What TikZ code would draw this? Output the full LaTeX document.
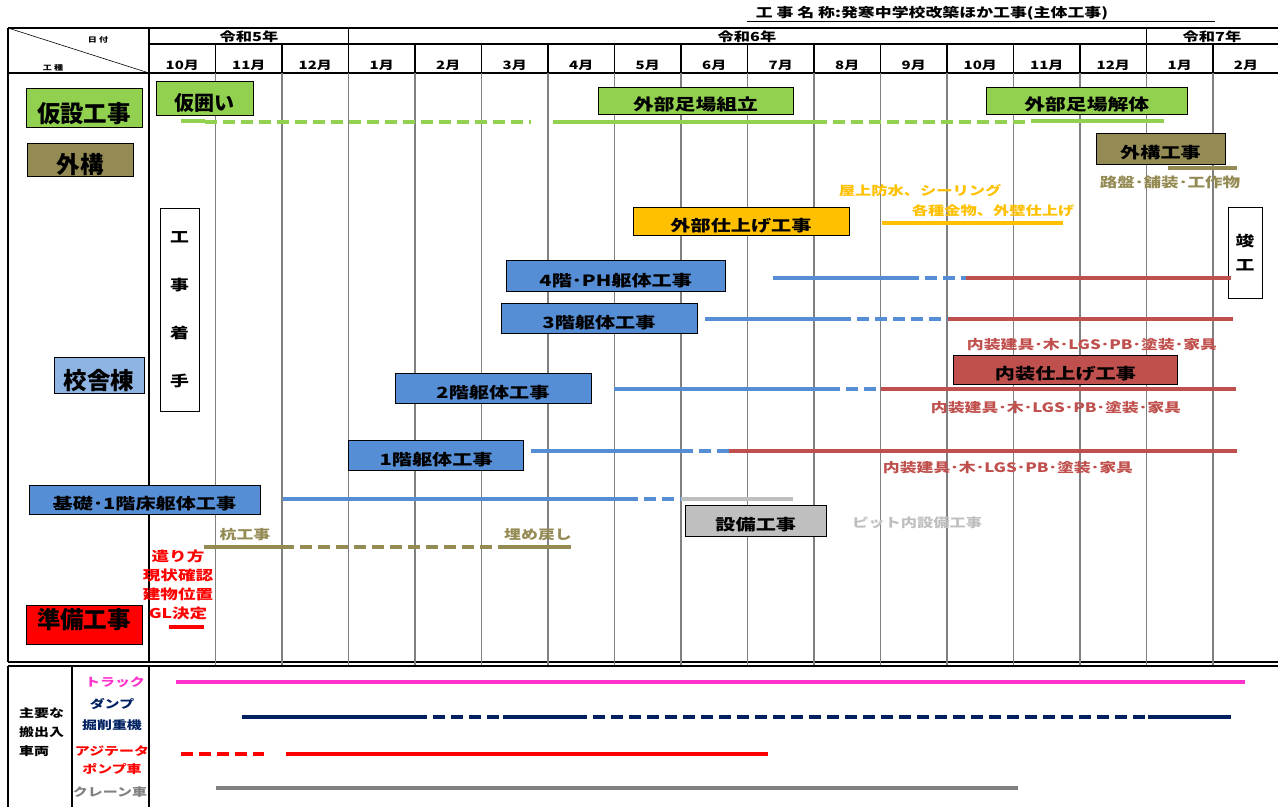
\documentclass[tikz,border=0pt]{standalone}
\usepackage{fontspec}
\setmainfont{Noto Sans CJK JP}
\newfontfamily\widejp{Noto Sans CJK JP}[FakeStretch=1.3]
\usetikzlibrary{calc,positioning}
\definecolor{kasetsu}{HTML}{92D050}
\definecolor{gaiko}{HTML}{948A54}
\definecolor{kosha}{HTML}{8DB4E2}
\definecolor{kutai}{HTML}{558ED5}
\definecolor{shiage}{HTML}{FFC000}
\definecolor{naiso}{HTML}{C0504D}
\definecolor{setsubi}{HTML}{BFBFBF}
\definecolor{gridgray}{HTML}{808080}
\definecolor{truck}{HTML}{FF33CC}
\definecolor{dump}{HTML}{002060}

\begin{document}
\begin{tikzpicture}[x=1pt,y=-1pt]
             \tikzstyle{frame} = [black,line width=1.2pt]
             \tikzstyle{gridline} = [gridgray,line width=1.2pt]
             \tikzstyle{cat} = [draw=black,line width=0.8pt,inner sep=0pt,text height=32pt,text depth=3pt,font=\bfseries\fontsize{23.5}{24}\selectfont]
             \tikzstyle{task} = [draw=black,line width=0.8pt,inner sep=0pt,text height=22pt,text depth=2pt,font=\widejp\bfseries\fontsize{15.5}{16}\selectfont]
             \tikzstyle{vbox} = [draw=black,line width=0.8pt,fill=white,inner sep=0pt,align=center,font=\widejp\bfseries\fontsize{14.5}{15}\selectfont]
             \tikzstyle{month} = [font=\widejp\bfseries\fontsize{11.5}{12}\selectfont]
             \tikzstyle{year} = [font=\widejp\bfseries\fontsize{12.5}{13}\selectfont]
             \tikzstyle{note} = [inner sep=0pt,font=\widejp\bfseries\fontsize{12.5}{13}\selectfont]
             \tikzstyle{car} = [inner sep=0pt,font=\widejp\bfseries\fontsize{11.5}{12}\selectfont]
             \tikzstyle{plan} = [line width=4pt]
             \tikzstyle{tent} = [line width=4pt,dash pattern=on 12pt off 6pt]
		\useasboundingbox (0,0) rectangle (1278,807);
		% Title
		\node[font=\widejp\bfseries\fontsize{13}{13}\selectfont] (title) at (932,13) {工 事 名 称:発寒中学校改築ほか工事(主体工事)};
		\coordinate (ul_0) at (747,21);
		\coordinate (ul_1) at (1215,21);
		\draw[line width=1pt] (ul_0) -- (ul_1);
		% Header
		\draw[frame] (8,28) -- (1278,28) (149,44) -- (1278,44) (8,73) -- (1278,73);
		\draw[frame] (8,28) -- (8,662) (149,28) -- (149,662) (8,662) -- (1278,662);
		\draw[frame] (348.5,28) -- (348.5,44) (1146.5,28) -- (1146.5,44);
		\draw[line width=0.6pt] (8,28) -- (149,73);
		\node[font=\widejp\bfseries\fontsize{7}{7}\selectfont] (hd_0) at (98,40) {日 付};
		\node[font=\widejp\bfseries\fontsize{7}{7}\selectfont] (hd_1) at (53,68) {工 種};
		\node[year] (y_5) at (249,37) {令和5年};
		\node[year] (y_6) at (747,37) {令和6年};
		\node[year] (y_7) at (1212,37) {令和7年};
		\draw[frame] (215.5,44) -- (215.5,73) (282,44) -- (282,73) (348.5,44) -- (348.5,73)
			(415,44) -- (415,73) (481.5,44) -- (481.5,73) (548,44) -- (548,73) (614.5,44) -- (614.5,73)
			(681,44) -- (681,73) (747.5,44) -- (747.5,73) (814,44) -- (814,73) (880.5,44) -- (880.5,73)
			(947,44) -- (947,73) (1013.5,44) -- (1013.5,73) (1080,44) -- (1080,73) (1146.5,44) -- (1146.5,73)
			(1213,44) -- (1213,73);
		\node[month] (m_0) at (182.25,65.5) {10月};
		\node[month] (m_1) at (248.75,65.5) {11月};
		\node[month] (m_2) at (315.25,65.5) {12月};
		\node[month] (m_3) at (381.75,65.5) {1月};
		\node[month] (m_4) at (448.25,65.5) {2月};
		\node[month] (m_5) at (514.75,65.5) {3月};
		\node[month] (m_6) at (581.25,65.5) {4月};
		\node[month] (m_7) at (647.75,65.5) {5月};
		\node[month] (m_8) at (714.25,65.5) {6月};
		\node[month] (m_9) at (780.75,65.5) {7月};
		\node[month] (m_10) at (847.25,65.5) {8月};
		\node[month] (m_11) at (913.75,65.5) {9月};
		\node[month] (m_12) at (980.25,65.5) {10月};
		\node[month] (m_13) at (1046.75,65.5) {11月};
		\node[month] (m_14) at (1113.25,65.5) {12月};
		\node[month] (m_15) at (1179.75,65.5) {1月};
		\node[month] (m_16) at (1246,65.5) {2月};
		% Grid
		\draw[gridline] (215.5,73) -- (215.5,666) (282,73) -- (282,666) (348.5,73) -- (348.5,666)
			(415,73) -- (415,666) (481.5,73) -- (481.5,666) (548,73) -- (548,666) (614.5,73) -- (614.5,666)
			(681,73) -- (681,666) (747.5,73) -- (747.5,666) (814,73) -- (814,666) (880.5,73) -- (880.5,666)
			(947,73) -- (947,666) (1013.5,73) -- (1013.5,666) (1080,73) -- (1080,666) (1146.5,73) -- (1146.5,666)
			(1213,73) -- (1213,666);
		% Categories
		\node[cat,fill=kasetsu,minimum width=116pt,minimum height=39pt] (c_0) at (84,107.5) {仮設工事};
		\node[cat,fill=gaiko,minimum width=106pt,minimum height=33pt,text height=29pt] (c_1) at (80,160) {外構};
		\node[cat,fill=kosha,minimum width=90pt,minimum height=36pt] (c_2) at (99,375) {校舎棟};
		\node[cat,fill=red,minimum width=116pt,minimum height=39pt,text height=20.5pt,text depth=12pt] (c_3) at (84,624.5) {準備工事};
		% Milestones
		\node[vbox,minimum width=39pt,minimum height=203pt] (start) at (179.5,309.5) {工\\[33pt]事\\[33pt]着\\[33pt]手};
		\node[vbox,minimum width=34pt,minimum height=91pt] (finish) at (1245,252.5) {竣\\[9pt]工};
		% Kasetsu
		\node[task,fill=kasetsu,minimum width=97.5pt,minimum height=34pt,text height=27pt,text depth=2.5pt,font=\bfseries\fontsize{20}{20}\selectfont] (t_0) at (204.75,98) {仮囲い};
		\node[task,fill=kasetsu,minimum width=195pt,minimum height=27pt,font=\widejp\bfseries\fontsize{16}{16}\selectfont] (t_1) at (695.5,100.5) {外部足場組立};
		\node[task,fill=kasetsu,minimum width=200.5pt,minimum height=27pt,font=\widejp\bfseries\fontsize{16}{16}\selectfont] (t_2) at (1086.75,100.5) {外部足場解体};
		\coordinate (k_0) at (181,121);
		\coordinate (k_1) at (205,121);
		\coordinate (k_2) at (205,122);
		\coordinate (k_3) at (531,122);
		\coordinate (k_4) at (553,122);
		\coordinate (k_5) at (815,122);
		\coordinate (k_6) at (1028,122);
		\coordinate (k_7) at (1031,121);
		\coordinate (k_8) at (1164,121);
		\draw[plan,kasetsu] (k_0) -- (k_1);
		\draw[tent,kasetsu] (k_2) -- (k_3);
		\draw[plan,kasetsu] (k_4) -- (k_5);
		\draw[tent,kasetsu] (k_5) -- (k_6);
		\draw[plan,kasetsu] (k_7) -- (k_8);
		% Gaiko
		\node[task,fill=gaiko,minimum width=129pt,minimum height=31pt] (t_3) at (1160.5,148.5) {外構工事};
		\coordinate (g_0) at (1168,168);
		\coordinate (g_1) at (1237,168);
		\draw[plan,gaiko] (g_0) -- (g_1);
		\node[note,text=gaiko,font=\widejp\bfseries\fontsize{13.5}{14}\selectfont] (n_0) at (1170,182) {路盤･舗装･工作物};
		% Gaiheki
		\node[task,fill=shiage,minimum width=216pt,minimum height=28pt] (t_4) at (741,221) {外部仕上げ工事};
		\node[note,text=shiage] (n_1) at (920,191) {屋上防水、シーリング};
		\node[note,text=shiage] (n_2) at (993,211) {各種金物、外壁仕上げ};
		\coordinate (o_0) at (882,223);
		\coordinate (o_1) at (1063,223);
		\draw[plan,shiage] (o_0) -- (o_1);
		% Kutai 4F
		\node[task,fill=kutai,minimum width=218.5pt,minimum height=31pt,text height=24pt] (t_5) at (615.75,275.5) {4階･PH躯体工事};
		\coordinate (f4_0) at (773,278);
		\coordinate (f4_1) at (907,278);
		\coordinate (f4_2) at (966,278);
		\coordinate (f4_3) at (1231,278);
		\draw[plan,kutai] (f4_0) -- (f4_1);
		\draw[tent,kutai] (f4_1) -- (f4_2);
		\draw[plan,naiso] (f4_2) -- (f4_3);
		% Kutai 3F
		\node[task,fill=kutai,minimum width=196pt,minimum height=30pt] (t_6) at (599,318) {3階躯体工事};
		\coordinate (f3_0) at (705,319);
		\coordinate (f3_1) at (839,319);
		\coordinate (f3_2) at (948,319);
		\coordinate (f3_3) at (1233,319);
		\draw[plan,kutai] (f3_0) -- (f3_1);
		\draw[tent,kutai] (f3_1) -- (f3_2);
		\draw[plan,naiso] (f3_2) -- (f3_3);
		\node[note,text=naiso,font=\widejp\bfseries\fontsize{13}{13}\selectfont] (n_3) at (1092,345) {内装建具･木･LGS･PB･塗装･家具};
		% Naiso
		\node[task,fill=naiso,minimum width=224pt,minimum height=29pt] (t_7) at (1065.5,369.5) {内装仕上げ工事};
		% Kutai 2F
		\node[task,fill=kutai,minimum width=196pt,minimum height=30pt] (t_8) at (493,388) {2階躯体工事};
		\coordinate (f2_0) at (614,389);
		\coordinate (f2_1) at (828,389);
		\coordinate (f2_2) at (881,389);
		\coordinate (f2_3) at (1236,389);
		\draw[plan,kutai] (f2_0) -- (f2_1);
		\draw[tent,kutai] (f2_1) -- (f2_2);
		\draw[plan,naiso] (f2_2) -- (f2_3);
		\node[note,text=naiso,font=\widejp\bfseries\fontsize{13}{13}\selectfont] (n_4) at (1056,408) {内装建具･木･LGS･PB･塗装･家具};
		% Kutai 1F
		\node[task,fill=kutai,minimum width=175pt,minimum height=30pt] (t_9) at (436.15,455) {1階躯体工事};
		\coordinate (f1_0) at (531,451);
		\coordinate (f1_1) at (681,451);
		\coordinate (f1_2) at (729,451);
		\coordinate (f1_3) at (1237,451);
		\draw[plan,kutai] (f1_0) -- (f1_1);
		\draw[tent,kutai] (f1_1) -- (f1_2);
		\draw[plan,naiso] (f1_2) -- (f1_3);
		\node[note,text=naiso,font=\widejp\bfseries\fontsize{13}{13}\selectfont] (n_5) at (1008,468) {内装建具･木･LGS･PB･塗装･家具};
		% Kiso
		\node[task,fill=kutai,minimum width=231pt,minimum height=29pt] (t_10) at (144.5,499.5) {基礎･1階床躯体工事};
		\coordinate (f0_0) at (283,499);
		\coordinate (f0_1) at (626,499);
		\coordinate (f0_2) at (681,499);
		\coordinate (f0_3) at (793,499);
		\draw[plan,kutai] (f0_0) -- (f0_1);
		\draw[tent,kutai] (f0_1) -- (f0_2);
		\draw[plan,setsubi] (f0_2) -- (f0_3);
		% Setsubi
		\node[task,fill=setsubi,minimum width=141.5pt,minimum height=31pt] (t_11) at (755.75,520.5) {設備工事};
		\node[note,text=setsubi] (n_6) at (917,523) {ピット内設備工事};
		% Kui
		\node[note,text=gaiko,font=\widejp\bfseries\fontsize{13}{13}\selectfont] (n_7) at (245,535) {杭工事};
		\node[note,text=gaiko,font=\widejp\bfseries\fontsize{13}{13}\selectfont] (n_8) at (538,535) {埋め戻し};
		\coordinate (p_0) at (204,547);
		\coordinate (p_1) at (282,547);
		\coordinate (p_2) at (506,547);
		\coordinate (p_3) at (571,547);
		\draw[plan,gaiko] (p_0) -- (p_1);
		\draw[tent,gaiko] (p_1) -- (p_2);
		\draw[plan,gaiko] (p_2) -- (p_3);
		% Junbi
		\node[note,text=red,align=center,font=\widejp\bfseries\fontsize{13.5}{19}\selectfont] (n_9) at (178,585) {遣り方\\現状確認\\建物位置\\GL決定};
		\coordinate (r_0) at (169,627);
		\coordinate (r_1) at (204,627);
		\draw[plan,red] (r_0) -- (r_1);
		% Vehicles
		\draw[frame] (8,666) -- (1278,666) (8,666) -- (8,807) (72,666) -- (72,807) (149,666) -- (149,807);
		\node[car,align=left,anchor=west,font=\widejp\bfseries\fontsize{11.5}{19}\selectfont] (v_0) at (19,732) {主要な\\搬出入\\車両};
		\node[car,text=truck] (v_1) at (115,682) {トラック};
		\node[car,text=dump,align=center,font=\widejp\bfseries\fontsize{11.5}{21}\selectfont] (v_2) at (112,715) {ダンプ\\掘削重機};
		\node[car,text=red,align=center,font=\widejp\bfseries\fontsize{11.5}{18}\selectfont] (v_3) at (112,760) {アジテータ\\ポンプ車};
		\node[car,text=gridgray] (v_4) at (110,792) {クレーン車};
		\coordinate (tr_0) at (176,682);
		\coordinate (tr_1) at (1245,682);
		\draw[plan,truck,line width=4.5pt] (tr_0) -- (tr_1);
		\coordinate (dp_0) at (242,717);
		\coordinate (dp_1) at (415,717);
		\coordinate (dp_2) at (503,717);
		\coordinate (dp_3) at (575,717);
		\coordinate (dp_4) at (1148,717);
		\coordinate (dp_5) at (1231,717);
		\draw[plan,dump,line width=4.5pt] (dp_0) -- (dp_1);
		\draw[tent,dump,line width=4.5pt] (dp_1) -- (dp_2);
		\draw[plan,dump,line width=4.5pt] (dp_2) -- (dp_3);
		\draw[tent,dump,line width=4.5pt] (dp_3) -- (dp_4);
		\draw[plan,dump,line width=4.5pt] (dp_4) -- (dp_5);
		\coordinate (ag_0) at (181,754);
		\coordinate (ag_1) at (264,754);
		\coordinate (ag_2) at (286,754);
		\coordinate (ag_3) at (768,754);
		\draw[tent,red,line width=4.5pt] (ag_0) -- (ag_1);
		\draw[plan,red,line width=4.5pt] (ag_2) -- (ag_3);
		\coordinate (cr_0) at (216,788);
		\coordinate (cr_1) at (1018,788);
		\draw[plan,gridgray,line width=4.5pt] (cr_0) -- (cr_1);
		\end{tikzpicture}
\end{document}
